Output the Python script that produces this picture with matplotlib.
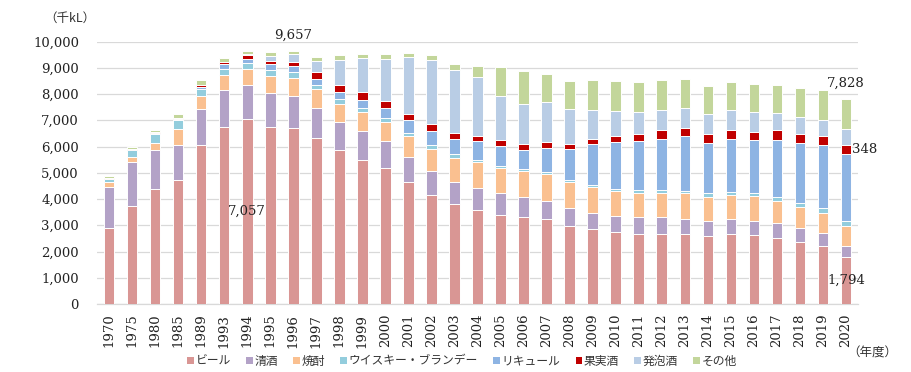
import matplotlib
matplotlib.use("Agg")
import matplotlib.pyplot as plt
from matplotlib.patches import Patch
from matplotlib.ticker import FuncFormatter
import numpy as np

years = ['1970', '1975', '1980', '1985', '1989'] + [str(y) for y in range(1993, 2021)]

beer = [2900, 3730, 4390, 4730, 6070, 6740, 7057, 6740, 6700, 6340, 5880, 5500, 5180, 4630,
        4140, 3800, 3600, 3400, 3300, 3220, 2990, 2850, 2760, 2670, 2670, 2650, 2590, 2650,
        2620, 2530, 2380, 2220, 1794]
sake = [1550, 1680, 1490, 1340, 1340, 1400, 1270, 1300, 1230, 1140, 1050, 1080, 1030, 970,
        930, 850, 820, 810, 760, 720, 650, 620, 610, 630, 630, 580, 580, 570, 560, 560, 500,
        470, 430]
shochu = [180, 190, 250, 610, 500, 570, 620, 650, 690, 720, 700, 720, 740, 790, 850, 930, 990,
          990, 1000, 1000, 990, 990, 940, 930, 930, 980, 910, 920, 930, 840, 800, 760, 730]
whisky = [140, 260, 360, 320, 290, 250, 230, 210, 210, 150, 180, 180, 150, 140, 130, 120, 90,
          70, 90, 90, 80, 80, 90, 100, 130, 110, 130, 130, 120, 150, 170, 190, 190]
liqueur = [10, 20, 30, 40, 60, 170, 160, 230, 220, 230, 280, 310, 380, 470, 530, 600, 710, 740,
           730, 930, 1200, 1540, 1780, 1880, 1940, 2070, 1940, 2020, 2010, 2180, 2280, 2430, 2580]
fruit = [15, 20, 20, 35, 100, 90, 140, 120, 170, 250, 260, 280, 250, 220, 260, 210, 200, 250,
         230, 220, 200, 210, 230, 280, 320, 330, 340, 350, 330, 360, 360, 330, 348]
happoshu = [0, 0, 0, 0, 0, 0, 30, 190, 310, 420, 950, 1310, 1600, 2180, 2460, 2410, 2230, 1670,
            1520, 1500, 1300, 1110, 950, 820, 780, 760, 760, 760, 730, 670, 620, 600, 580]
others = [75, 80, 100, 145, 160, 150, 120, 150, 127, 150, 170, 160, 180, 160, 170, 210, 410,
          1090, 1230, 1090, 1080, 1120, 1120, 1160, 1120, 1090, 1060, 1050, 1090, 1060, 1120,
          1140, 1176]

series_names = ['ビール', '清酒', '焼酎', 'ウイスキー・ブランデー', 'リキュール', '果実酒', '発泡酒', 'その他']
series_vals = [beer, sake, shochu, whisky, liqueur, fruit, happoshu, others]
colors = ['#D99694', '#B3A2C7', '#FAC090', '#93CDDD', '#8EB4E3', '#C00000', '#B9CDE5', '#C3D69B']

num_font = 'DejaVu Serif'
jp_font = ['Noto Sans CJK JP', 'DejaVu Sans']

fig = plt.figure(figsize=(9.12, 3.72), dpi=100)
ax = fig.add_axes([0.1064, 0.1828, 0.8344, 0.7056])

x = np.arange(len(years))
bottom = np.zeros(len(years))
for name, vals, c in zip(series_names, series_vals, colors):
    v = np.array(vals, dtype=float)
    ax.bar(x, v, bottom=bottom, width=0.46, color=c, edgecolor='white', linewidth=0.7,
           label=name, zorder=3)
    bottom += v

ax.set_xlim(-0.52, len(years) - 0.48)
ax.set_ylim(0, 10000)
ax.set_yticks(np.arange(0, 10001, 1000))
ax.yaxis.set_major_formatter(FuncFormatter(lambda v, p: f'{int(v):,}'))
ax.set_xticks(x)
ax.set_xticklabels(years, rotation=90)
ax.tick_params(axis='y', length=0, pad=13, labelsize=9.5)
ax.tick_params(axis='x', length=0, pad=7, labelsize=9.5)
for lab in ax.get_xticklabels() + ax.get_yticklabels():
    lab.set_fontfamily(num_font)
    lab.set_color('#222222')

ax.yaxis.grid(True, color='#D9D9D9', linewidth=0.9, zorder=0)
for s in ['top', 'right', 'left']:
    ax.spines[s].set_visible(False)
ax.spines['bottom'].set_color('#D9D9D9')
ax.spines['bottom'].set_linewidth(0.9)

totals = bottom
i96 = years.index('1996')
i94 = years.index('1994')
i20 = years.index('2020')
lab_kw = dict(fontsize=9.5, fontfamily=num_font, color='#222222', textcoords='offset points')
ax.annotate(f'{int(round(totals[i96])):,}', (i96, totals[i96]), xytext=(0, 11),
            ha='center', va='center', annotation_clip=False, **lab_kw)
ax.annotate(f'{beer[i94]:,}', (i94, beer[i94] / 2), xytext=(0, 0), ha='center', va='center', **lab_kw)
ax.annotate(f'{int(round(totals[i20])):,}', (i20, totals[i20]), xytext=(0, 11),
            ha='center', va='center', annotation_clip=False, **lab_kw)
fruit_mid = beer[i20] + sake[i20] + shochu[i20] + whisky[i20] + liqueur[i20] + fruit[i20] / 2
ax.annotate(f'{fruit[i20]:,}', (i20, fruit_mid), xytext=(4.5, 0), ha='left', va='center',
            annotation_clip=False, **lab_kw)
ax.annotate(f'{beer[i20]:,}', (i20, beer[i20] / 2), xytext=(0, 0), ha='center', va='center',
            annotation_clip=False, **lab_kw)

fig.text(70 / 912, 1 - 18 / 372, '（千kL）', ha='center', va='center', fontsize=9,
         family=jp_font, color='#333333')
fig.text(872 / 912, 1 - 353 / 372, '（年度）', ha='center', va='center', fontsize=9,
         family=jp_font, color='#333333')

handles = [Patch(facecolor=c, edgecolor='none') for c in colors]
leg = fig.legend(handles, series_names, ncol=8, loc='center',
                 bbox_to_anchor=(462 / 912, 1 - 361 / 372), frameon=False,
                 handlelength=0.55, handleheight=0.55, handletextpad=0.15,
                 columnspacing=1.3, prop={'family': jp_font, 'size': 8.5})
for t in leg.get_texts():
    t.set_color('#333333')

fig.savefig('out.png', dpi=100)
